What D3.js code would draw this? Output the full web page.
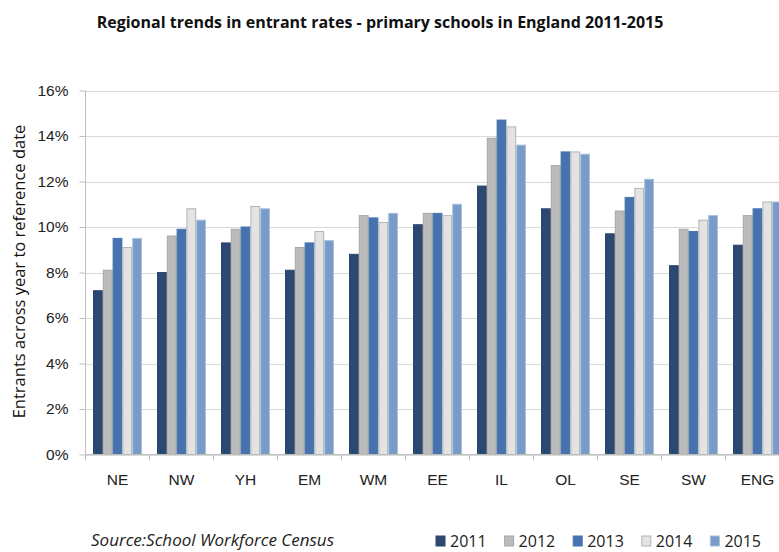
<!DOCTYPE html>
<html>
<head>
<meta charset="utf-8">
<script src="https://cdn.jsdelivr.net/npm/d3@7"></script>
<style>
  body { margin: 0; background: #fff; }
  svg { display: block; font-family: "Open Sans", "Liberation Sans", sans-serif; }
</style>
</head>
<body>
<svg id="chart" width="779" height="552"></svg>
<script>
// data
const regions = ["NE", "NW", "YH", "EM", "WM", "EE", "IL", "OL", "SE", "SW", "ENG"];
const years = ["2011", "2012", "2013", "2014", "2015"];
const v2011 = [7.2, 8.0, 9.3, 8.1, 8.8, 10.1, 11.8, 10.8, 9.7, 8.3, 9.2];
const v2012 = [8.1, 9.6, 9.9, 9.1, 10.5, 10.6, 13.9, 12.7, 10.7, 9.9, 10.5];
const v2013 = [9.5, 9.9, 10.0, 9.3, 10.4, 10.6, 14.7, 13.3, 11.3, 9.8, 10.8];
const v2014 = [9.1, 10.8, 10.9, 9.8, 10.2, 10.5, 14.4, 13.3, 11.7, 10.3, 11.1];
const v2015 = [9.5, 10.3, 10.8, 9.4, 10.6, 11.0, 13.6, 13.2, 12.1, 10.5, 11.1];
const yTicks = [0, 2, 4, 6, 8, 10, 12, 14, 16];

const series = [v2011, v2012, v2013, v2014, v2015];
const colors = ["#2c4770", "#bbbbbb", "#4673b0", "#e3e3e3", "#789bca"];
const strokes = ["#2c4770", "#a6a6a6", "#4673b0", "#b3b3b3", "#a9c0de"];

const svg = d3.select("#chart");
const plotLeft = 85.5, plotTop = 90.5, plotBottom = 454.5;
const step = 64;

const x = d3.scaleBand().domain(regions).range([plotLeft, plotLeft + step * regions.length]);
const x1 = d3.scaleBand().domain(years).range([7.5, 56.5]);
const y = d3.scaleLinear().domain([0, 16]).range([plotBottom, plotTop]);

// gridlines
svg.append("g")
  .selectAll("line")
  .data(yTicks)
  .join("line")
  .attr("x1", plotLeft).attr("x2", 779)
  .attr("y1", d => Math.round(y(d)) + 0.5).attr("y2", d => Math.round(y(d)) + 0.5)
  .attr("stroke", "#d9d9d9");

// bars
const groups = svg.append("g")
  .selectAll("g")
  .data(regions)
  .join("g")
  .attr("transform", d => `translate(${x(d)},0)`);

groups.selectAll("rect")
  .data((d, i) => years.map((yr, j) => ({ yr, j, v: series[j][i] })))
  .join("rect")
  .attr("x", d => x1(d.yr) + 0.5)
  .attr("width", x1.bandwidth() - 1)
  .attr("y", d => y(d.v))
  .attr("height", d => plotBottom - y(d.v))
  .attr("fill", d => colors[d.j])
  .attr("stroke", d => strokes[d.j])
  .attr("stroke-width", 1);

// y axis
const yAxis = svg.append("g")
  .attr("transform", `translate(${plotLeft},0)`)
  .call(d3.axisLeft(y).tickValues(yTicks).tickFormat(d => d + "%").tickSize(6).tickPadding(11));
yAxis.select(".domain").attr("stroke", "#bfbfbf").attr("d", `M0,${plotTop}V${plotBottom}`);
yAxis.selectAll(".tick line").attr("stroke", "#bfbfbf");
yAxis.selectAll("text").attr("font-size", 15.5).attr("fill", "#222");

// x axis
const xAxis = svg.append("g")
  .attr("transform", `translate(0,${plotBottom})`)
  .call(d3.axisBottom(x).tickSize(0).tickPadding(19));
xAxis.select(".domain").attr("stroke", "#bfbfbf").attr("d", `M${plotLeft},0H779`);
xAxis.selectAll("text").attr("font-size", 15.5).attr("fill", "#222");
xAxis.selectAll(".sep")
  .data(regions.concat(["end"]).map((d, i) => plotLeft + i * step))
  .join("line")
  .attr("class", "sep")
  .attr("x1", d => d).attr("x2", d => d)
  .attr("y1", 0).attr("y2", 6)
  .attr("stroke", "#bfbfbf");

// title
svg.append("text")
  .attr("x", 380).attr("y", 28)
  .attr("text-anchor", "middle")
  .attr("font-size", 16)
  .attr("font-weight", "bold")
  .attr("fill", "#111")
  .text("Regional trends in entrant rates - primary schools in England 2011-2015");

// y axis title
svg.append("text")
  .attr("transform", `translate(25,${(plotTop + plotBottom) / 2 - 1}) rotate(-90)`)
  .attr("text-anchor", "middle")
  .attr("font-size", 16.5)
  .attr("fill", "#111")
  .text("Entrants across year to reference date");

// source
svg.append("text")
  .attr("x", 91).attr("y", 546)
  .attr("font-size", 17)
  .attr("font-style", "italic")
  .attr("fill", "#222")
  .text("Source:School Workforce Census");

// legend
let lx = 436;
years.forEach((yr, i) => {
  const g = svg.append("g").attr("transform", `translate(${lx},536)`);
  g.append("rect")
    .attr("width", 9).attr("height", 10)
    .attr("fill", colors[i])
    .attr("stroke", strokes[i]);
  const t = g.append("text")
    .attr("x", 14).attr("y", 11)
    .attr("font-size", 16)
    .attr("fill", "#222")
    .text(yr);
  lx += 14 + t.node().getComputedTextLength() + 18;
});
</script>
</body>
</html>
